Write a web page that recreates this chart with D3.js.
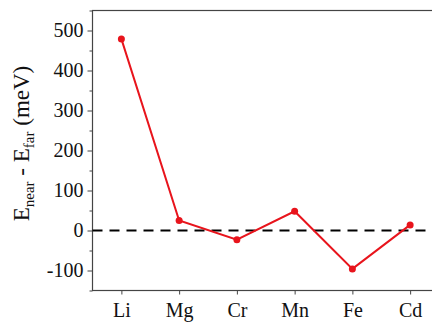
<!DOCTYPE html>
<html>
<head>
<meta charset="utf-8">
<script src="https://cdn.jsdelivr.net/npm/d3@7"></script>
<style>
  body { margin: 0; background: #fff; }
  svg { display: block; font-family: "Liberation Serif", "Times New Roman", serif; }
</style>
</head>
<body>
<div id="chartPlaceholder"></div>
<script>
const elements = ["Li", "Mg", "Cr", "Mn", "Fe", "Cd"];
const energyDiff = [479, 25, -23, 48, -96, 14];
const yTicks = [-100, 0, 100, 200, 300, 400, 500];
const yMinorTicks = [-150, -50, 50, 150, 250, 350, 450, 550];

const W = 432, H = 327;
const margin = { top: 10.5, right: -7, bottom: 36.5, left: 92.5 };
const width = W - margin.left - margin.right,
  height = H - margin.top - margin.bottom;
const serif = '"Liberation Serif", "Times New Roman", serif';

const svg = d3
  .select("#chartPlaceholder")
  .append("svg")
  .attr("width", W)
  .attr("height", H)
  .append("g")
  .attr("transform", `translate(${margin.left}, ${margin.top})`);

const x = d3.scaleLinear().domain([-0.5, elements.length - 0.5]).range([0, width]);
const y = d3.scaleLinear().domain([-150, 550]).range([height, 0]);

const axisColor = "#444";

// frame
svg.append("rect")
  .attr("width", width)
  .attr("height", height)
  .attr("fill", "none")
  .attr("stroke", axisColor)
  .attr("stroke-width", 1.2);

// x axis
const xAxis = svg.append("g")
  .attr("transform", `translate(0, ${height})`)
  .call(d3.axisBottom(x).tickValues(d3.range(elements.length)).tickFormat((i) => elements[i]).tickSize(4).tickPadding(8))
  .attr("font-family", serif);
xAxis.select(".domain").remove();
xAxis.selectAll("line").attr("stroke", axisColor);
xAxis.selectAll("text").style("font-size", "20px").attr("fill", "#111");

// y axis (plain hyphen for negatives, like the original)
const yAxis = svg.append("g")
  .call(d3.axisLeft(y).tickValues(yTicks).tickSize(5).tickPadding(4).tickFormat((d) => String(d)))
  .attr("font-family", serif);
yAxis.select(".domain").remove();
yAxis.selectAll("line").attr("stroke", axisColor);
yAxis.selectAll("text").style("font-size", "20px").attr("fill", "#111");

const yMinor = svg.append("g")
  .call(d3.axisLeft(y).tickValues(yMinorTicks).tickSize(3).tickFormat(""));
yMinor.select(".domain").remove();
yMinor.selectAll("line").attr("stroke", axisColor);

// zero line
svg.append("line")
  .attr("x1", 0)
  .attr("x2", width)
  .attr("y1", y(0))
  .attr("y2", y(0))
  .attr("stroke", "#000")
  .attr("stroke-width", 2)
  .attr("stroke-dasharray", "10,7");

// series line
const data = elements.map((e, i) => ({ i, v: energyDiff[i] }));
svg.append("path")
  .datum(data)
  .attr("fill", "none")
  .attr("stroke", "#e8141c")
  .attr("stroke-width", 2)
  .attr("d", d3.line().x((d) => x(d.i)).y((d) => y(d.v)));

svg.selectAll("circle.pt")
  .data(data)
  .join("circle")
  .attr("class", "pt")
  .attr("cx", (d) => x(d.i))
  .attr("cy", (d) => y(d.v))
  .attr("r", 3.5)
  .attr("fill", "#e8141c");

// y label
const label = svg.append("text")
  .attr("transform", `translate(${-64}, ${height / 2 - 7}) rotate(-90)`)
  .attr("text-anchor", "middle")
  .attr("fill", "#111")
  .style("font-size", "23px");
label.append("tspan").text("E");
label.append("tspan").attr("dy", 5).style("font-size", "15px").text("near");
label.append("tspan").attr("dy", -5).text(" - E");
label.append("tspan").attr("dy", 5).style("font-size", "15px").text("far");
label.append("tspan").attr("dy", -5).text(" (meV)");
</script>
</body>
</html>
